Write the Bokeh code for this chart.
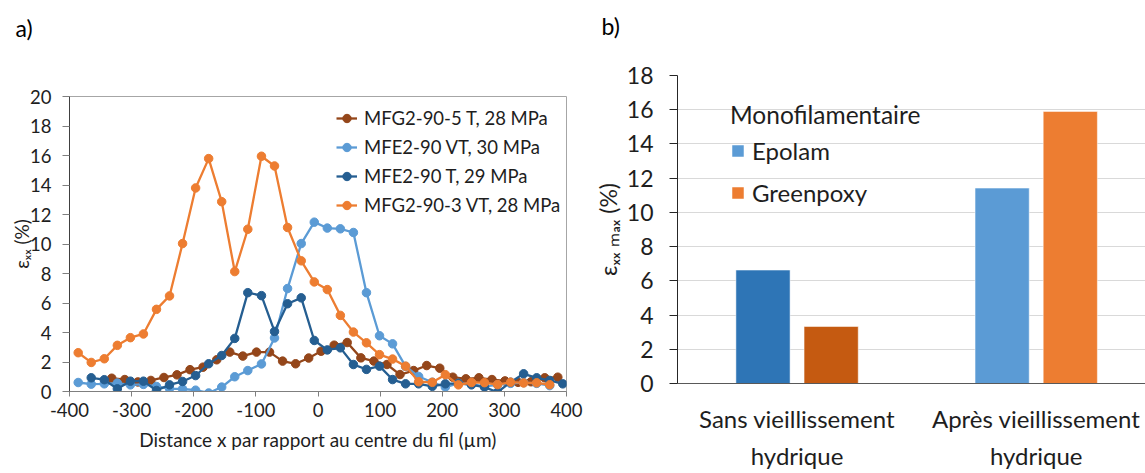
from bokeh.plotting import figure
from bokeh.models import (Range1d, FixedTicker, Legend, LegendItem,
                          ColumnDataSource, Title)
from bokeh.layouts import row
from bokeh.embed import file_html
from bokeh.resources import INLINE
from bokeh.transform import dodge

FONT = "Lato"
TXT = "#1e1e1e"

# ---------------- panel a) data ----------------
x_mfg5_t = [-332, -311, -290, -269, -248, -227, -206, -185, -163, -142, -121, -99,
            -78, -57, -36, -15, 5, 26, 47, 69, 90, 111, 132, 154, 175, 196, 217,
            238, 259, 280, 301, 322, 343, 365, 386]
y_mfg5_t = [0.90, 0.81, 0.65, 0.75, 0.95, 1.13, 1.48, 1.65, 2.15, 2.67, 2.40, 2.67,
            2.67, 2.06, 1.88, 2.27, 2.73, 3.14, 3.32, 2.28, 2.06, 1.83, 1.15, 1.42,
            1.76, 1.58, 0.97, 0.86, 0.93, 0.81, 0.72, 0.62, 0.66, 0.93, 0.97]

x_mfe_vt = [-386, -365, -344, -323, -302, -281, -260, -239, -218, -197, -176, -155,
            -134, -113, -91, -70, -49, -27, -6, 15, 36, 57, 78, 99, 120, 141, 162,
            184, 205, 226, 247, 268, 289, 310, 331, 352, 373]
y_mfe_vt = [0.61, 0.50, 0.52, 0.57, 0.45, 0.48, 0.34, 0.20, 0.17, 0.09, -0.10, 0.30,
            1.00, 1.42, 1.87, 3.63, 6.98, 10.03, 11.48, 11.08, 11.03, 10.78, 6.70,
            3.78, 3.23, 1.70, 1.02, 0.63, 0.30, 0.55, 0.50, 0.35, 0.45, 0.55, 0.60,
            0.55, 0.40]

x_mfe_t = [-365, -344, -323, -302, -281, -260, -239, -218, -197, -176, -155, -134,
           -113, -91, -70, -49, -27, -6, 15, 36, 57, 78, 99, 120, 141, 162, 184, 205,
           226, 247, 268, 289, 310, 331, 352, 373, 394]
y_mfe_t = [0.93, 0.80, 0.18, 0.70, 0.70, 0.07, 0.45, 0.68, 1.08, 1.88, 2.44, 3.60,
           6.70, 6.50, 4.07, 5.95, 6.35, 3.46, 2.82, 2.96, 1.83, 1.50, 1.72, 0.81,
           0.52, 0.52, 0.35, 0.52, 0.55, 0.45, 0.30, -0.05, 0.63, 1.20, 0.93, 0.75,
           0.52]

x_mfg3_vt = [-386, -365, -344, -323, -302, -281, -260, -239, -218, -197, -176, -155,
             -134, -113, -91, -70, -49, -27, -6, 15, 36, 57, 78, 99, 120, 141, 162,
             184, 205, 226, 247, 268, 289, 310, 331, 352, 373]
y_mfg3_vt = [2.63, 1.97, 2.22, 3.13, 3.65, 3.90, 5.57, 6.48, 10.03, 13.80, 15.79,
             12.87, 8.13, 11.00, 15.95, 15.29, 11.12, 8.86, 7.43, 6.91, 5.16, 4.03,
             3.30, 2.50, 2.20, 1.72, 0.66, 0.62, 1.14, 0.45, 0.61, 0.60, 0.47, 0.63,
             0.58, 0.59, 0.46]

series_labels = ["MFG2-90-5 T, 28 MPa", "MFE2-90 VT, 30 MPa",
                 "MFE2-90 T, 29 MPa", "MFG2-90-3 VT, 28 MPa"]
series_colors = ["#94461A", "#5B9BD5", "#255E91", "#ED7D31"]

xticks_a = [-400, -300, -200, -100, 0, 100, 200, 300, 400]
yticks_a = [0, 2, 4, 6, 8, 10, 12, 14, 16, 18, 20]

# ---------------- panel b) data ----------------
categories = ["Sans vieillissement\nhydrique", "Après vieillissement\nhydrique"]
epolam = [6.63, 11.42]
greenpoxy = [3.33, 15.90]
epolam_colors = ["#2E75B6", "#5B9BD5"]
greenpoxy_colors = ["#C55A11", "#ED7D31"]
yticks_b = [0, 2, 4, 6, 8, 10, 12, 14, 16, 18]


def style_title(p, text, offset, spacer_standoff):
    p.title.text = text
    p.title.align = "left"
    p.title.offset = offset
    p.title.text_font = FONT
    p.title.text_font_size = "23px"
    p.title.text_font_style = "normal"
    p.title.text_color = "black"
    try:
        p.title.standoff = 10
    except Exception:
        pass
    # blank spacer between the panel label and the frame
    spacer = Title(text=" ", align="left", text_font=FONT, text_font_size="23px")
    try:
        spacer.standoff = spacer_standoff
    except Exception:
        pass
    p.add_layout(spacer, "above")


# ================= figure a =================
pa = figure(width=590, height=473, x_range=Range1d(-400, 400), y_range=Range1d(0, 20),
            output_backend="svg", toolbar_location=None,
            min_border_left=69, min_border_right=24, min_border_top=96,
            min_border_bottom=82)
try:
    pa.frame_align = False
except Exception:
    pass
pa.outline_line_color = "#A6A6A6"
pa.outline_line_width = 1
pa.grid.visible = False
pa.background_fill_color = "white"
pa.border_fill_color = "white"
style_title(pa, "a)", -54, 20)

items = []
for xs, ys, lab, col in zip([x_mfg5_t, x_mfe_vt, x_mfe_t, x_mfg3_vt],
                            [y_mfg5_t, y_mfe_vt, y_mfe_t, y_mfg3_vt],
                            series_labels, series_colors):
    src = ColumnDataSource(dict(x=xs, y=ys))
    rl = pa.line("x", "y", source=src, line_color=col, line_width=2.3)
    rs = pa.scatter("x", "y", source=src, size=8.5, fill_color=col, line_color=col)
    items.append(LegendItem(label=lab, renderers=[rl, rs]))

lega = Legend(items=items, location=(267, 175), margin=0, padding=0,
              spacing=7, glyph_width=21, glyph_height=22, label_height=22,
              label_standoff=7, border_line_color=None, background_fill_alpha=0,
              label_text_font=FONT, label_text_font_size="18.5px",
              label_text_color=TXT)
pa.add_layout(lega)

xa = pa.xaxis[0]
xa.ticker = FixedTicker(ticks=xticks_a)
xa.major_label_overrides = {t: str(t) for t in xticks_a}
xa.axis_label = "Distance x par rapport au centre du fil (µm)"
ya = pa.yaxis[0]
ya.ticker = FixedTicker(ticks=yticks_a)
ya.axis_label = "εₓₓ (%)"
for ax in (xa, ya):
    ax.major_label_text_font = FONT
    ax.major_label_text_font_size = "18.5px"
    ax.major_label_text_color = TXT
    ax.axis_label_text_font = FONT
    ax.axis_label_text_font_size = "19px"
    ax.axis_label_text_font_style = "normal"
    ax.axis_label_text_color = TXT
    ax.minor_tick_line_color = None
    ax.major_tick_in = 0
    ax.axis_line_color = "#7F7F7F"
    ax.major_tick_line_color = "#7F7F7F"
xa.major_tick_out = 5
xa.major_label_standoff = 6
xa.axis_label_standoff = 8
ya.major_tick_out = 7
ya.major_label_standoff = 11
ya.axis_label_standoff = -6
ya.axis_line_color = "#404040"

# ================= figure b =================
xc = [i + 0.5 for i in range(len(categories))]
srcb = ColumnDataSource(dict(xc=xc, epolam=epolam, greenpoxy=greenpoxy,
                             ecol=epolam_colors, gcol=greenpoxy_colors))
pb = figure(width=555, height=473, x_range=Range1d(0, 1.957), y_range=Range1d(0, 18),
            output_backend="svg", toolbar_location=None,
            min_border_left=86, min_border_right=0, min_border_top=75,
            min_border_bottom=79)
try:
    pb.frame_align = False
except Exception:
    pass
pb.outline_line_color = None
pb.background_fill_color = "white"
pb.border_fill_color = "white"
pb.xgrid.visible = False
pb.ygrid.grid_line_color = "#D9D9D9"
pb.ygrid.grid_line_width = 1.2
pb.ygrid.ticker = FixedTicker(ticks=yticks_b)
style_title(pb, "b)", -76, 1)

r1 = pb.vbar(x=dodge("xc", -0.1425), top="epolam", width=0.2266, source=srcb,
             fill_color="ecol", line_color="white", line_alpha=0.5, line_width=1)
r2 = pb.vbar(x=dodge("xc", 0.1425), top="greenpoxy", width=0.2266, source=srcb,
             fill_color="gcol", line_color="white", line_alpha=0.5, line_width=1)

legb = Legend(items=[LegendItem(label="Epolam", renderers=[r1], index=1),
                     LegendItem(label="Greenpoxy", renderers=[r2], index=1)],
              location=(53, 176), title="Monofilamentaire", margin=0, padding=0,
              spacing=13, glyph_width=15, glyph_height=15, label_height=28,
              label_standoff=7, border_line_color=None, background_fill_alpha=0,
              label_text_font=FONT, label_text_font_size="24px",
              label_text_color=TXT, title_text_font=FONT,
              title_text_font_size="24.5px", title_text_font_style="normal",
              title_text_color=TXT, title_standoff=7)
pb.add_layout(legb)

xb = pb.xaxis[0]
xb.ticker = FixedTicker(ticks=xc)
xb.major_label_overrides = {x: c for x, c in zip(xc, categories)}
xb.major_tick_line_color = None
xb.minor_tick_line_color = None
xb.axis_line_color = "#595959"
xb.major_label_text_font = FONT
xb.major_label_text_font_size = "24px"
xb.major_label_text_line_height = 1.3
xb.major_label_text_color = TXT
xb.major_label_standoff = 14

yb = pb.yaxis[0]
yb.ticker = FixedTicker(ticks=yticks_b)
yb.axis_label = "εₓₓ ₘₐₓ (%)"
yb.major_label_text_font = FONT
yb.major_label_text_font_size = "23px"
yb.major_label_text_color = TXT
yb.axis_label_text_font = FONT
yb.axis_label_text_font_size = "23px"
yb.axis_label_text_font_style = "normal"
yb.axis_label_text_color = TXT
yb.minor_tick_line_color = None
yb.major_tick_in = 0
yb.major_tick_out = 8
yb.axis_line_color = "#262626"
yb.major_tick_line_color = "#262626"
yb.major_label_standoff = 16
yb.axis_label_standoff = 2

layout = row(pa, pb)
open("out.html", "w").write(file_html(layout, INLINE))
